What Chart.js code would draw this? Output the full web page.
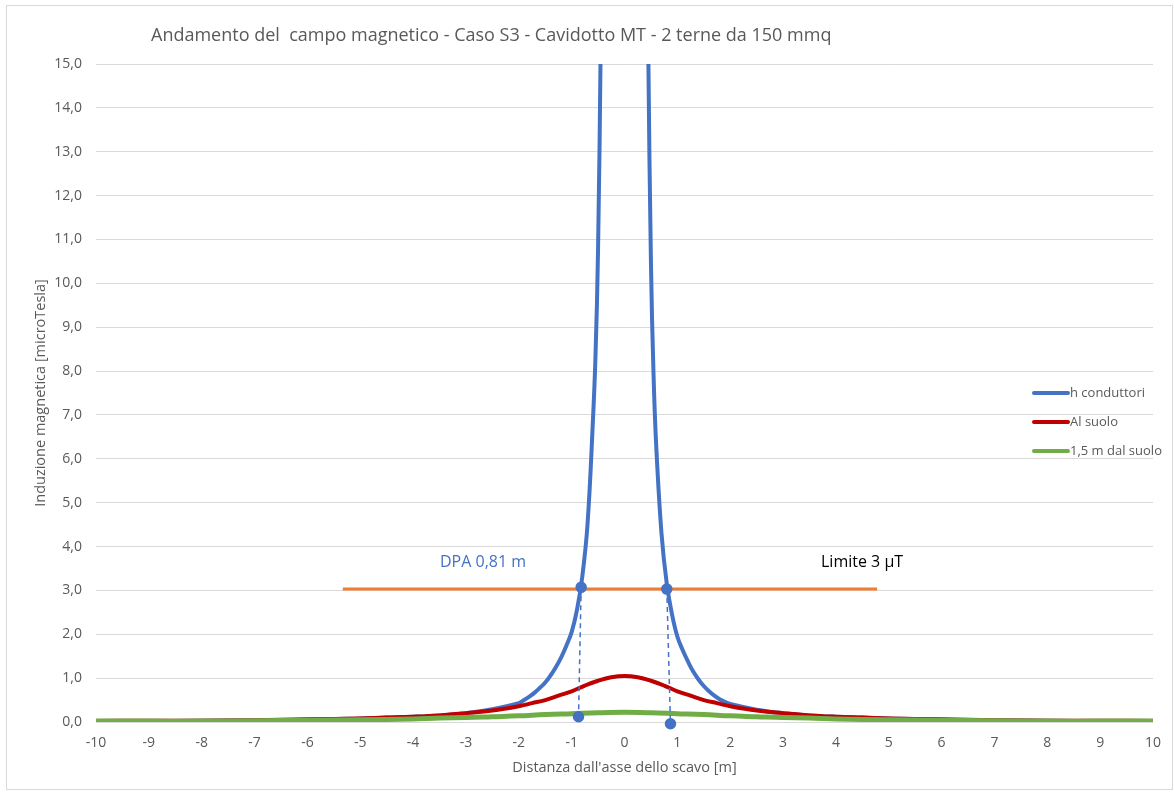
<!DOCTYPE html>
<html>
<head>
<meta charset="utf-8">
<script src="https://cdn.jsdelivr.net/npm/chart.js@4"></script>
<style>
  html, body { margin: 0; padding: 0; background: #fff; }
  #wrap { width: 1174px; height: 794px; }
</style>
</head>
<body>
<div id="wrap"><canvas id="myChart" width="1174" height="794"></canvas></div>
<script>
// Valori
const xConduttori = [-10, -9, -8, -7, -6, -5, -4.5, -4, -3.5, -3, -2.5, -2, -1.9, -1.8, -1.7, -1.6, -1.5, -1.4, -1.3, -1.2, -1.1, -1, -0.9, -0.8, -0.7, -0.6, -0.55, -0.5, -0.45, -0.4, 0,
    0.4, 0.45, 0.5, 0.55, 0.6, 0.7, 0.8, 0.9, 1, 1.1, 1.2, 1.3, 1.4, 1.5, 1.6, 1.7, 1.8, 1.9, 2, 2.5, 3, 3.5, 4, 4.5, 5, 6, 7, 8, 9, 10];
const hConduttori = [0.02, 0.02, 0.03, 0.04, 0.05, 0.08, 0.10, 0.12, 0.15, 0.20, 0.29, 0.43, 0.50, 0.58, 0.67, 0.78, 0.90, 1.06, 1.25, 1.47, 1.74, 2.05, 2.55, 3.3, 4.5, 6.8, 8.3, 10.8, 15.5, 22, 40,
    22, 15.3, 10.5, 7.9, 6.3, 4.3, 3.15, 2.45, 1.95, 1.64, 1.38, 1.15, 0.97, 0.82, 0.70, 0.60, 0.52, 0.46, 0.41, 0.28, 0.20, 0.15, 0.12, 0.10, 0.08, 0.05, 0.04, 0.03, 0.02, 0.02];

const xSuolo = [-10, -9, -8, -7, -6, -5, -4.5, -4, -3.5, -3, -2.5, -2, -1.75, -1.5, -1.25, -1, -0.75, -0.5, -0.25, 0,
    0.25, 0.5, 0.75, 1, 1.25, 1.5, 1.75, 2, 2.5, 3, 3.5, 4, 4.5, 5, 6, 7, 8, 9, 10];
const alSuolo = [0.02, 0.03, 0.03, 0.04, 0.06, 0.08, 0.10, 0.12, 0.15, 0.20, 0.26, 0.36, 0.43, 0.50, 0.60, 0.70, 0.83, 0.94, 1.02, 1.05,
    1.02, 0.94, 0.83, 0.70, 0.60, 0.50, 0.43, 0.36, 0.26, 0.20, 0.15, 0.12, 0.10, 0.08, 0.06, 0.04, 0.03, 0.03, 0.02];

const xQuota = [-10, -9, -8, -7, -6, -5, -4, -3.5, -3, -2.5, -2, -1.5, -1, -0.5, 0, 0.5, 1, 1.5, 2, 2.5, 3, 3.5, 4, 5, 6, 7, 8, 9, 10];
const quota15 = [0.02, 0.02, 0.02, 0.03, 0.04, 0.05, 0.07, 0.09, 0.10, 0.12, 0.14, 0.17, 0.19, 0.21, 0.22, 0.21, 0.19, 0.17, 0.14, 0.12, 0.10, 0.09, 0.07, 0.05, 0.04, 0.03, 0.02, 0.02, 0.02];

// Limite 3 µT e punti DPA
const limiteX = [-5.33, 4.78];
const limiteY = [3.03, 3.03];
const dpaSxX = [-0.82, -0.87];
const dpaSxY = [3.07, 0.12];
const dpaDxX = [0.80, 0.87];
const dpaDxY = [3.03, -0.04];

const legendLabels = ['h conduttori', 'Al suolo', '1,5 m dal suolo'];
const colors = ['#4472C4', '#C00000', '#70AD47'];

const toPts = (xs, ys) => xs.map((x, i) => ({ x: x, y: ys[i] }));

const textColor = '#595959';
const fontFam = '"Open Sans", "Noto Sans", sans-serif';

// Titolo, etichette assi, legenda e note
const decorPlugin = {
    id: 'decor',
    beforeDraw(chart) {
        const c = chart.ctx;
        c.save();
        c.strokeStyle = '#d9d9d9';
        c.lineWidth = 1;
        c.strokeRect(6.5, 5.5, 1166, 784);
        c.restore();
    },
    afterDraw(chart) {
        const c = chart.ctx;
        const a = chart.chartArea;
        c.save();
        c.fillStyle = textColor;
        c.textBaseline = 'middle';
        c.font = '18px ' + fontFam;
        c.textAlign = 'left';
        c.fillText('Andamento del  campo magnetico - Caso S3 - Cavidotto MT - 2 terne da 150 mmq', 151, 36);

        c.font = '14.5px ' + fontFam;
        c.textAlign = 'center';
        c.fillText("Distanza dall'asse dello scavo [m]", (a.left + a.right) / 2, 768);
        c.save();
        c.translate(41, (a.top + a.bottom) / 2);
        c.rotate(-Math.PI / 2);
        c.fillText('Induzione magnetica [microTesla]', 0, 0);
        c.restore();

        // legenda
        c.font = '13px ' + fontFam;
        c.textAlign = 'left';
        legendLabels.forEach((lab, i) => {
            const y = 393 + i * 29;
            c.strokeStyle = colors[i];
            c.lineWidth = 4;
            c.lineCap = 'round';
            c.beginPath();
            c.moveTo(1034, y);
            c.lineTo(1068, y);
            c.stroke();
            c.fillStyle = textColor;
            c.fillText(lab, 1070, y);
        });

        // note
        c.font = '16px ' + fontFam;
        c.fillStyle = '#4472C4';
        c.fillText('DPA 0,81 m', 440, 562);
        c.fillStyle = '#000000';
        c.fillText('Limite 3 \u00B5T', 821, 562);
        c.restore();
    }
};

let myChart;

function initChart() {
    const ctx = document.getElementById('myChart').getContext('2d');
    myChart = new Chart(ctx, {
        type: 'scatter',
        data: {
            datasets: [
                {
                    label: 'DPA sx',
                    data: toPts(dpaSxX, dpaSxY),
                    showLine: true,
                    borderColor: '#4472C4',
                    backgroundColor: '#4472C4',
                    borderWidth: 1.5,
                    borderDash: [5, 4],
                    pointRadius: 5,
                    clip: false,
                    order: 0
                },
                {
                    label: 'DPA dx',
                    data: toPts(dpaDxX, dpaDxY),
                    showLine: true,
                    borderColor: '#4472C4',
                    backgroundColor: '#4472C4',
                    borderWidth: 1.5,
                    borderDash: [5, 4],
                    pointRadius: 5,
                    clip: false,
                    order: 0
                },
                {
                    label: legendLabels[2],
                    data: toPts(xQuota, quota15),
                    showLine: true,
                    borderColor: colors[2],
                    borderWidth: 5,
                    pointRadius: 0,
                    tension: 0.4,
                    order: 1
                },
                {
                    label: legendLabels[1],
                    data: toPts(xSuolo, alSuolo),
                    showLine: true,
                    borderColor: colors[1],
                    borderWidth: 4,
                    pointRadius: 0,
                    tension: 0.4,
                    order: 2
                },
                {
                    label: legendLabels[0],
                    data: toPts(xConduttori, hConduttori),
                    showLine: true,
                    borderColor: colors[0],
                    borderWidth: 4,
                    pointRadius: 0,
                    tension: 0.4,
                    order: 3
                },
                {
                    label: 'Limite 3 µT',
                    data: toPts(limiteX, limiteY),
                    showLine: true,
                    borderColor: '#ED7D31',
                    borderWidth: 3,
                    pointRadius: 0,
                    order: 4
                }
            ]
        },
        options: {
            responsive: false,
            animation: false,
            layout: { padding: { top: 64, right: 19, left: 0, bottom: 0 } },
            plugins: {
                legend: { display: false },
                title: { display: false },
                tooltip: { enabled: false }
            },
            scales: {
                x: {
                    type: 'linear',
                    min: -10,
                    max: 10,
                    ticks: {
                        stepSize: 1,
                        color: textColor,
                        font: { family: fontFam, size: 14 },
                        padding: 13
                    },
                    grid: { display: false, drawTicks: false },
                    border: { display: false },
                    afterFit(scale) { scale.height = 72; }
                },
                y: {
                    min: 0,
                    max: 15,
                    ticks: {
                        stepSize: 1,
                        color: textColor,
                        font: { family: fontFam, size: 14 },
                        padding: 14,
                        callback: v => v.toFixed(1).replace('.', ',')
                    },
                    grid: { color: '#d9d9d9', lineWidth: 1, drawTicks: false },
                    border: { display: false },
                    afterFit(scale) { scale.width = 96; }
                }
            }
        },
        plugins: [decorPlugin]
    });
}

document.addEventListener('DOMContentLoaded', () => {
    initChart();
});
</script>
</body>
</html>
